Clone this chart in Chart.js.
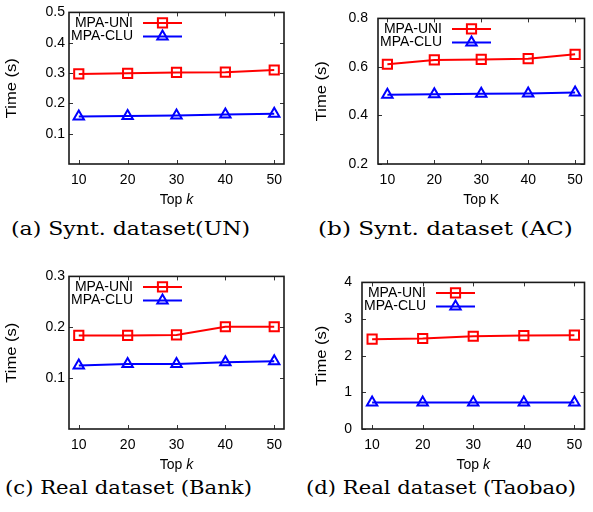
<!DOCTYPE html>
<html>
<head>
<meta charset="utf-8">
<script src="https://cdn.jsdelivr.net/npm/chart.js@4.4.0/dist/chart.umd.min.js"></script>
<style>
body { margin: 0; background: #fff; }
#wrap { position: relative; width: 593px; height: 512px; overflow: hidden; }
.panel { position: absolute; }
.cap { position: absolute; font-family: "DejaVu Serif", serif; font-size: 19px; line-height: 19px;
       white-space: nowrap; transform-origin: left top; color: #000; }
</style>
</head>
<body>
<div id="wrap">
  <canvas id="chartA" class="panel" width="296" height="210" style="left:0;top:0"></canvas>
  <canvas id="chartB" class="panel" width="297" height="210" style="left:296px;top:0"></canvas>
  <canvas id="chartC" class="panel" width="296" height="210" style="left:0;top:264px"></canvas>
  <canvas id="chartD" class="panel" width="297" height="210" style="left:296px;top:264px"></canvas>
  <div class="cap" id="capA" style="left:11px;top:219px"></div>
  <div class="cap" id="capB" style="left:318px;top:219px"></div>
  <div class="cap" id="capC" style="left:5px;top:478px"></div>
  <div class="cap" id="capD" style="left:306px;top:478px"></div>
</div>
<script>
// data
const topK = [10, 20, 30, 40, 50];
const seriesNames = ['MPA-UNI', 'MPA-CLU'];

const uniA = [0.297, 0.299, 0.302, 0.303, 0.310];
const cluA = [0.157, 0.158, 0.160, 0.163, 0.166];
const uniB = [0.611, 0.629, 0.631, 0.634, 0.652];
const cluB = [0.485, 0.487, 0.490, 0.491, 0.495];
const uniC = [0.184, 0.184, 0.185, 0.201, 0.201];
const cluC = [0.125, 0.128, 0.128, 0.131, 0.133];
const uniD = [2.45, 2.47, 2.53, 2.55, 2.56];
const cluD = [0.72, 0.72, 0.72, 0.72, 0.72];

const yTicksA = [0.1, 0.2, 0.3, 0.4, 0.5];
const yTicksB = [0.2, 0.4, 0.6, 0.8];
const yTicksC = [0.1, 0.2, 0.3];
const yTicksD = [0, 1, 2, 3, 4];

const xTitles = ['Top k', 'Top K', 'Top k', 'Top k'];
const yTitle = 'Time (s)';
const captions = ['(a) Synt. dataset(UN)', '(b) Synt. dataset (AC)',
                  '(c) Real dataset (Bank)', '(d) Real dataset (Taobao)'];

const FONT = 'Liberation Sans, Arial, sans-serif';
const FS = 14;
const RED = '#ff0000';
const BLUE = '#0000ff';

// gnuplot-ish frame, inward ticks, legend and axis titles
const framePlugin = {
  id: 'frame',
  afterDraw(chart, args, opts) {
    const ctx = chart.ctx;
    const a = chart.chartArea;
    const xs = chart.scales.x, ys = chart.scales.y;
    ctx.save();
    // inward ticks on all four sides
    ctx.strokeStyle = '#333';
    ctx.lineWidth = 1;
    ctx.beginPath();
    opts.yTicks.forEach(v => {
      const y = Math.round(ys.getPixelForValue(v)) + 0.5;
      ctx.moveTo(a.left, y); ctx.lineTo(a.left + 4, y);
      ctx.moveTo(a.right, y); ctx.lineTo(a.right - 4, y);
    });
    topK.forEach(v => {
      const x = Math.round(xs.getPixelForValue(v)) + 0.5;
      ctx.moveTo(x, a.bottom); ctx.lineTo(x, a.bottom - 4);
      ctx.moveTo(x, a.top); ctx.lineTo(x, a.top + 4);
    });
    ctx.stroke();
    // frame
    ctx.strokeStyle = '#1a1a1a';
    ctx.lineWidth = 1.6;
    ctx.strokeRect(a.left, a.top, a.right - a.left, a.bottom - a.top);

    // legend, text left of sample like gnuplot
    ctx.font = FS + 'px ' + FONT;
    ctx.textBaseline = 'middle';
    chart.data.datasets.forEach((ds, i) => {
      const y = a.top + 10.5 + 13.5 * i;
      ctx.fillStyle = '#000';
      ctx.textAlign = 'right';
      ctx.fillText(ds.label, a.left + 64, y);
      ctx.strokeStyle = ds.borderColor;
      ctx.lineWidth = ds.borderWidth;
      ctx.beginPath();
      ctx.moveTo(a.left + 74, y); ctx.lineTo(a.left + 113, y);
      ctx.stroke();
      ctx.fillStyle = 'rgba(0,0,0,0)';
      ctx.lineWidth = ds.pointBorderWidth;
      Chart.helpers.drawPoint(ctx, {
        pointStyle: ds.pointStyle, radius: ds.pointRadius, rotation: 0,
        borderWidth: ds.pointBorderWidth
      }, a.left + 93.5, y);
    });

    // x title (italic k where the figure has it)
    ctx.fillStyle = '#000';
    ctx.textAlign = 'left';
    const cx = (a.left + a.right) / 2, ty = a.bottom + 36;
    const title = opts.xTitle;
    const head = title.slice(0, -1), tail = title.slice(-1);
    const tailFont = (tail === 'k' ? 'italic ' : '') + FS + 'px ' + FONT;
    ctx.font = FS + 'px ' + FONT;
    const w1 = ctx.measureText(head).width;
    ctx.font = tailFont;
    const w2 = ctx.measureText(tail).width;
    const x0 = cx - (w1 + w2) / 2;
    ctx.font = FS + 'px ' + FONT;
    ctx.fillText(head, x0, ty);
    ctx.font = tailFont;
    ctx.fillText(tail, x0 + w1, ty);

    // y title, stretched a little along its length as in the figure
    ctx.font = FS + 'px ' + FONT;
    ctx.textAlign = 'center';
    const wy = ctx.measureText(yTitle).width;
    ctx.translate(opts.yTitleX, (a.top + a.bottom) / 2);
    ctx.rotate(-Math.PI / 2);
    ctx.scale(60 / wy, 1);
    ctx.fillText(yTitle, 0, 0);
    ctx.restore();
  }
};

function makePanel(id, uni, clu, yTicks, yMin, yMax, decimals, layout) {
  const pts = vals => topK.map((k, i) => ({ x: k, y: vals[i] }));
  return new Chart(document.getElementById(id), {
    type: 'line',
    data: {
      datasets: [{
        label: seriesNames[0],
        data: pts(uni),
        borderColor: RED,
        borderWidth: 2,
        pointStyle: 'rect',
        pointRadius: 6.5,
        pointBorderWidth: 2,
        pointBorderColor: RED,
        pointBackgroundColor: 'rgba(0,0,0,0)',
        tension: 0
      }, {
        label: seriesNames[1],
        data: pts(clu),
        borderColor: BLUE,
        borderWidth: 2,
        pointStyle: 'triangle',
        pointRadius: 6,
        pointBorderWidth: 2,
        pointBorderColor: BLUE,
        pointBackgroundColor: 'rgba(0,0,0,0)',
        tension: 0
      }]
    },
    options: {
      responsive: false,
      animation: false,
      devicePixelRatio: 1,
      layout: { padding: { left: 0, top: 10, right: layout.right, bottom: 0 } },
      plugins: {
        legend: { display: false },
        tooltip: { enabled: false },
        frame: { yTicks: yTicks, xTitle: layout.xTitle, yTitleX: layout.yTitleX }
      },
      scales: {
        x: {
          type: 'linear',
          min: 8, max: 52,
          afterBuildTicks: s => { s.ticks = topK.map(v => ({ value: v })); },
          afterFit: s => { s.height = layout.xHeight; },
          grid: { display: false, drawTicks: false },
          border: { display: false },
          ticks: { color: '#000', font: { family: FONT, size: FS }, padding: 8,
                   maxRotation: 0, autoSkip: false }
        },
        y: {
          type: 'linear',
          min: yMin, max: yMax,
          afterBuildTicks: s => { s.ticks = yTicks.map(v => ({ value: v })); },
          afterFit: s => { s.width = layout.yWidth; },
          grid: { display: false, drawTicks: false },
          border: { display: false },
          ticks: { color: '#000', font: { family: FONT, size: FS }, padding: layout.tickPad,
                   callback: v => Number(v).toFixed(decimals) }
        }
      }
    },
    plugins: [framePlugin]
  });
}

makePanel('chartA', uniA, cluA, yTicksA, 0, 0.5, 1,
  { right: 12, xHeight: 46, yWidth: 69, tickPad: 4, yTitleX: 12.5, xTitle: xTitles[0] });
makePanel('chartB', uniB, cluB, yTicksB, 0.2, 0.8, 1,
  { right: 1, xHeight: 46, yWidth: 82, tickPad: 10, yTitleX: 26, xTitle: xTitles[1] });
makePanel('chartC', uniC, cluC, yTicksC, 0, 0.3, 1,
  { right: 12, xHeight: 45, yWidth: 69, tickPad: 4, yTitleX: 12.5, xTitle: xTitles[2] });
makePanel('chartD', uniD, cluD, yTicksD, 0, 4, 0,
  { right: 1, xHeight: 45, yWidth: 66, tickPad: 10, yTitleX: 26, xTitle: xTitles[3] });

// sub-figure captions, stretched to the width they take in the figure
const capWidths = [239, 255, 247, 270];
['capA', 'capB', 'capC', 'capD'].forEach((id, i) => {
  const el = document.getElementById(id);
  el.textContent = captions[i];
  const w = el.getBoundingClientRect().width;
  el.style.transform = 'scaleX(' + (capWidths[i] / w).toFixed(3) + ')';
});
</script>
</body>
</html>
